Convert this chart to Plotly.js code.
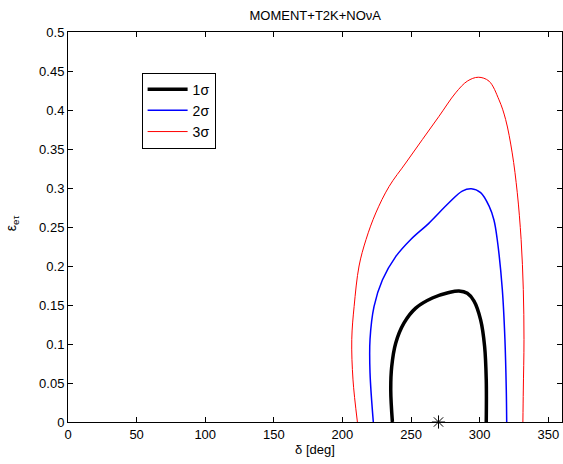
<!DOCTYPE html>
<html>
<head>
<meta charset="utf-8">
<script src="https://cdn.plot.ly/plotly-3.0.1.min.js"></script>
<style>html,body{margin:0;padding:0;background:#fff;}</style>
</head>
<body>
<div id="chart" style="width:563px;height:464px;"></div>
<script>
// 1 sigma contour
const delta1 = [236.4, 235.2, 235.9, 238.8, 244.9, 253.4, 265.5, 277.6, 284.9, 291.0, 295.9, 300.7, 303.6, 304.8, 304.8];
const eps1   = [0, 0.041, 0.071, 0.101, 0.127, 0.146, 0.159, 0.166, 0.168, 0.165, 0.155, 0.131, 0.097, 0.054, 0];
// 2 sigma contour
const delta2 = [222.5, 220.1, 220.1, 223.0, 229.1, 238.8, 249.8, 263.1, 277.6, 287.3, 293.9, 300.7, 306.8, 310.4, 312.8, 316.5, 318.4, 319.4, 319.7];
const eps2   = [0, 0.063, 0.106, 0.148, 0.182, 0.212, 0.234, 0.255, 0.281, 0.296, 0.299, 0.294, 0.277, 0.259, 0.234, 0.17, 0.106, 0.041, 0];
// 3 sigma contour
const delta3 = [210.9, 207.7, 206.8, 208.5, 212.1, 217.2, 224.3, 234.0, 246.1, 258.2, 270.4, 282.5, 291.0, 299.0, 306.8, 314.1, 318.9, 323.7, 327.4, 330.2, 331.8, 332.3, 331.8, 331.5];
const eps3   = [0, 0.054, 0.106, 0.148, 0.2, 0.234, 0.268, 0.302, 0.332, 0.362, 0.392, 0.422, 0.437, 0.442, 0.437, 0.413, 0.388, 0.345, 0.294, 0.234, 0.17, 0.106, 0.041, 0];
// true point
const trueDelta = [270];
const trueEps = [0];

const seriesNames = ['1σ', '2σ', '3σ'];
const xTicks = [0, 50, 100, 150, 200, 250, 300, 350];
const yTicks = [0, 0.05, 0.1, 0.15, 0.2, 0.25, 0.3, 0.35, 0.4, 0.45, 0.5];

const font = {family: '"Liberation Sans", Arial, sans-serif', size: 13, color: '#000'};

const traces = [
  {x: delta1, y: eps1, name: seriesNames[0], mode: 'lines', line: {color: '#000', width: 3.5, shape: 'spline', smoothing: 1}},
  {x: delta2, y: eps2, name: seriesNames[1], mode: 'lines', line: {color: '#0000ff', width: 1.5, shape: 'spline', smoothing: 1}},
  {x: delta3, y: eps3, name: seriesNames[2], mode: 'lines', line: {color: '#ff0000', width: 1, shape: 'spline', smoothing: 1}},
  {x: trueDelta, y: trueEps, mode: 'markers', showlegend: false, cliponaxis: false,
   marker: {symbol: 'asterisk-open', size: 11, color: '#000', line: {color: '#000', width: 1}}}
];

const axisCommon = {
  showgrid: false, zeroline: false, showline: true, linecolor: '#000', linewidth: 1,
  mirror: 'ticks', ticks: 'inside', ticklen: 5, tickcolor: '#000', tickwidth: 1,
  tickfont: font
};

const layout = {
  width: 563, height: 464,
  margin: {l: 68, r: 1, t: 32, b: 42},
  paper_bgcolor: '#fff', plot_bgcolor: '#fff',
  font: font,
  title: {text: 'MOMENT+T2K+NOνA', font: {family: font.family, size: 13, color: '#000'}, x: 0.56, xanchor: 'center', y: 0.967, yanchor: 'middle'},
  xaxis: Object.assign({}, axisCommon, {range: [0, 360], tickvals: xTicks, ticktext: xTicks.map(String),
    title: {text: 'δ [deg]', font: font, standoff: 2}}),
  yaxis: Object.assign({}, axisCommon, {range: [0, 0.5], tickvals: yTicks, ticktext: yTicks.map(String)}),
  annotations: [{
    text: 'ε<sub>eτ</sub>', xref: 'paper', yref: 'paper', x: -0.113, y: 0.51,
    xanchor: 'center', yanchor: 'middle', textangle: -90, showarrow: false,
    font: {family: font.family, size: 14, color: '#000'}
  }],
  showlegend: true,
  legend: {x: 0.149, y: 0.896, xanchor: 'left', yanchor: 'top', bgcolor: '#fff', bordercolor: '#000', borderwidth: 1,
    font: {family: font.family, size: 14, color: '#000'}, itemwidth: 40, tracegroupgap: 0}
};

Plotly.newPlot('chart', traces, layout, {displayModeBar: false, staticPlot: true});
</script>
</body>
</html>
